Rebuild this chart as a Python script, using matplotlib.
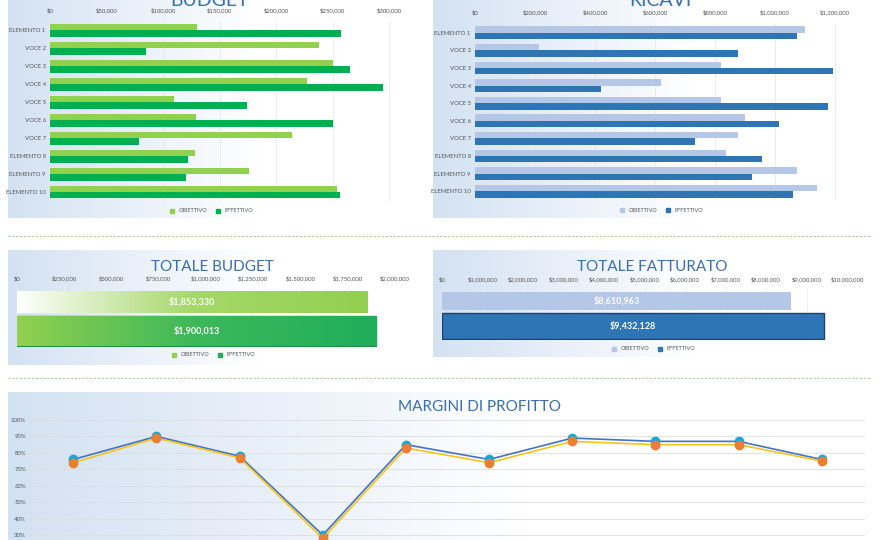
import matplotlib
matplotlib.use("Agg")
import matplotlib.pyplot as plt
import numpy as np
from matplotlib.colors import LinearSegmentedColormap
from matplotlib.lines import Line2D
from matplotlib.ticker import FuncFormatter

plt.rcParams['font.family'] = ['Lato', 'DejaVu Sans']

categories = ["ELEMENTO 1", "VOCE 2", "VOCE 3", "VOCE 4", "VOCE 5", "VOCE 6", "VOCE 7",
              "ELEMENTO 8", "ELEMENTO 9", "ELEMENTO 10"]
budget_obiettivo = [130000, 238000, 250000, 227000, 110000, 129000, 214000, 128000, 176000, 254000]
budget_effettivo = [257000, 85000, 265000, 294000, 174000, 250000, 79000, 122000, 120000, 256000]
ricavi_obiettivo = [1100000, 213000, 819000, 619000, 820000, 900000, 878000, 837000, 1072000, 1141000]
ricavi_effettivo = [1072000, 878000, 1192000, 419000, 1176000, 1014000, 733000, 956000, 923000, 1061000]
totale_budget = [1853330, 1900013]
totale_fatturato = [8610963, 9432128]
margini_a = [76, 90, 78, 30, 85, 76, 89, 87, 87, 76]
margini_b = [74, 89, 77, 28, 83, 74, 87, 85, 85, 75]
series = ["OBIETTIVO", "EFFETTIVO"]

W, H = 880, 540
fig = plt.figure(figsize=(8.8, 5.4), dpi=100)
fig.patch.set_facecolor("white")
TITLE_C = "#3a6fb0"
TICK_C = "#555555"

def pax(x0, y0, x1, y1, **kw):
    return fig.add_axes([x0 / W, 1 - y1 / H, (x1 - x0) / W, (y1 - y0) / H], **kw)

grad_cmap = LinearSegmentedColormap.from_list(
    "bg", [(0, "#d3e2f2"), (0.3, "#e9f0f9"), (0.6, "#ffffff"), (1, "#ffffff")])

def panel(x0, y0, x1, y1):
    a = pax(x0, y0, x1, y1)
    a.imshow(np.linspace(0, 1, 256)[None, :], aspect="auto", cmap=grad_cmap,
             extent=[0, 1, 0, 1])
    a.set_axis_off()
    a.set_zorder(-5)

def sep(y):
    a = pax(8, y - 1, 872, y + 1)
    a.axhline(0.5, color="#a9d18e", lw=0.8, ls=(0, (2, 1.5)))
    a.set_xlim(0, 1); a.set_ylim(0, 1); a.set_axis_off()

def money(v, p=None):
    return "${:,.0f}".format(v)

panel(8, -5, 425, 218)
panel(433, -5, 872, 218)
panel(8, 250, 425, 365)
panel(433, 250, 872, 357)
panel(8, 392, 872, 545)
sep(236)
sep(378)

def hbar_chart(rect, obj, eff, cobj, ceff, xmax, ticks, title, tx, legy):
    ax = pax(*rect)
    y = np.arange(len(categories))
    ax.barh(y - 0.18, obj, height=0.36, color=cobj)
    ax.barh(y + 0.18, eff, height=0.36, color=ceff)
    ax.set_ylim(len(categories) - 0.5, -0.5)
    ax.set_xlim(0, xmax)
    ax.set_yticks(y)
    ax.set_yticklabels(categories, fontsize=4.3, color=TICK_C)
    ax.set_xticks(ticks)
    ax.xaxis.set_major_formatter(FuncFormatter(money))
    ax.xaxis.tick_top()
    ax.tick_params(axis="x", labelsize=4.3, colors=TICK_C, length=0, pad=6)
    ax.tick_params(axis="y", length=0, pad=3)
    ax.grid(axis="x", color="#e8e8e8", lw=0.6)
    ax.set_axisbelow(True)
    ax.patch.set_alpha(0)
    for s in ax.spines.values():
        s.set_visible(False)
    fig.text(tx / W, 1 - 0 / H, title, ha="center", va="center", fontsize=14, color=TITLE_C)
    handles = [Line2D([], [], marker="s", ls="", color=cobj, markersize=2.5),
               Line2D([], [], marker="s", ls="", color=ceff, markersize=2.5)]
    fig.legend(handles, series, loc="center", bbox_to_anchor=(tx / W, 1 - legy / H), ncol=2,
               frameon=False, fontsize=4, handletextpad=0.1, columnspacing=1, labelcolor=TICK_C)
    return ax

hbar_chart((50, 21.5, 395, 201), budget_obiettivo, budget_effettivo, "#92d050", "#00b050",
           305000, np.arange(0, 300001, 50000), "BUDGET", 210, 211)
hbar_chart((475, 24, 840, 200), ricavi_obiettivo, ricavi_effettivo, "#b4c7e7", "#2e75b6",
           1217000, np.arange(0, 1200001, 200000), "RICAVI", 660, 210)

def total_chart(rect, vals, xmax, ticks, title, tx, tity, legy, fills, edges, heights, txtc):
    ax = pax(*rect)
    ax.set_xlim(0, xmax)
    ax.set_ylim(1.55, -0.5)
    for yi, v, f, e, h in zip([0, 1], vals, fills, edges, heights):
        bars = ax.barh(yi, v, height=h, color="none" if isinstance(f, list) else f,
                       edgecolor=e, lw=1.0 if e != "none" else 0)
        if isinstance(f, list):
            cm = LinearSegmentedColormap.from_list("g", f)
            im = ax.imshow(np.linspace(0, 1, 256)[None, :], aspect="auto", cmap=cm,
                           extent=[0, v, yi + h / 2, yi - h / 2], zorder=1)
            im.set_clip_path(bars[0])
        ax.text(v / 2, yi, money(v), ha="center", va="center", color=txtc, fontsize=6.5,
                fontweight="bold", zorder=3)
    ax.set_ylim(1.55, -0.5)
    ax.set_xlim(0, xmax)
    ax.set_yticks([])
    ax.set_xticks(ticks)
    ax.xaxis.set_major_formatter(FuncFormatter(money))
    ax.xaxis.tick_top()
    ax.tick_params(axis="x", labelsize=4.3, colors=TICK_C, length=0, pad=4)
    ax.grid(axis="x", color="#eeeeee", lw=0.6)
    ax.set_axisbelow(True)
    ax.patch.set_alpha(0)
    for s in ax.spines.values():
        s.set_visible(False)
    fig.text(tx / W, 1 - tity / H, title, ha="center", va="center", fontsize=11, color=TITLE_C)
    cols = [fills[0][-1] if isinstance(fills[0], list) else fills[0],
            fills[1][-1] if isinstance(fills[1], list) else fills[1]]
    handles = [Line2D([], [], marker="s", ls="", color=c, markersize=2.5) for c in cols]
    fig.legend(handles, series, loc="center", bbox_to_anchor=(tx / W, 1 - legy / H), ncol=2,
               frameon=False, fontsize=4, handletextpad=0.1, columnspacing=1, labelcolor=TICK_C)

total_chart((17, 287, 395, 347), totale_budget, 2000000, np.arange(0, 2000001, 250000),
            "TOTALE BUDGET", 212, 267, 355,
            [["#ffffff", "#a6d86a", "#92d050"], ["#92d050", "#3cb85a", "#1fae5a"]],
            ["none", "#1a8f40"], [0.75, 1.05], "white")
total_chart((442, 288, 847, 340), totale_fatturato, 10000000, np.arange(0, 10000001, 1000000),
            "TOTALE FATTURATO", 652, 267, 349,
            ["#b4c7e7", "#2e75b6"], ["none", "#1f3f70"], [0.7, 1.0], "white")

ax = pax(30, 420, 865, 540)
x = np.arange(len(margini_a))
ax.plot(x, margini_b, color="#f5c518", lw=1.2, marker="o", markersize=6,
        markerfacecolor="#ed7d31", markeredgecolor="#ed7d31", zorder=3)
ax.plot(x, margini_a, color="#4472c4", lw=1.2, marker="o", markersize=6,
        markerfacecolor="#18a8d8", markeredgecolor="#18a8d8", zorder=2)
ax.set_ylim(27, 100)
ax.set_xlim(-0.52, 9.52)
ax.set_yticks(np.arange(30, 101, 10))
ax.yaxis.set_major_formatter(FuncFormatter(lambda v, p: "{:.0f}%".format(v)))
ax.tick_params(axis="y", labelsize=4.3, colors=TICK_C, length=0, pad=3)
ax.set_xticks([])
ax.grid(axis="y", color="#dddddd", lw=0.6)
ax.set_axisbelow(True)
ax.patch.set_alpha(0)
for s in ax.spines.values():
    s.set_visible(False)
fig.text(480 / W, 1 - 407 / H, "MARGINI DI PROFITTO", ha="center", va="center",
         fontsize=11, color=TITLE_C)

fig.savefig("out.png", dpi=100)
